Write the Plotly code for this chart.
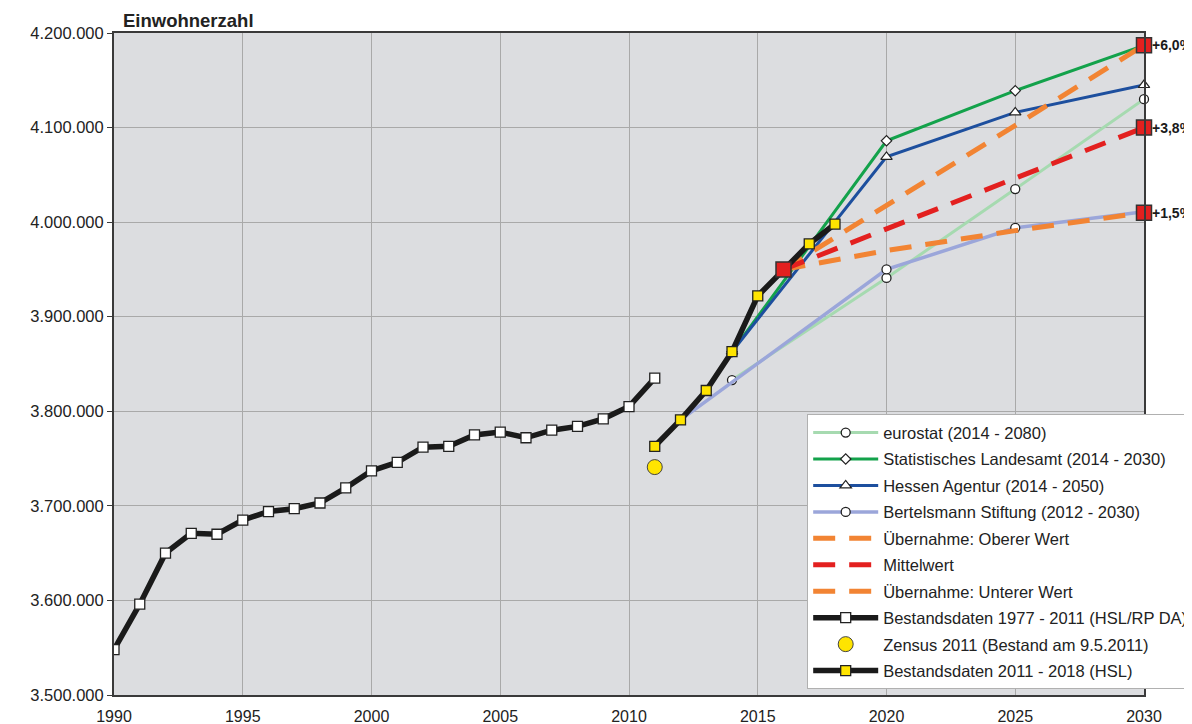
import plotly.graph_objects as go

# ---- data ----
years_old = list(range(1990, 2012))
pop_old = [3548000, 3596000, 3650000, 3671000, 3670000, 3685000, 3694000, 3697000,
           3703000, 3719000, 3737000, 3746000, 3762000, 3763000, 3775000, 3778000,
           3772000, 3780000, 3784000, 3792000, 3805000, 3835000]

years_new = list(range(2011, 2019))
pop_new = [3763000, 3791000, 3822000, 3863000, 3922000, 3950000, 3977000, 3998000]

zensus_year = [2011]
zensus_pop = [3741000]

eurostat_years = [2014, 2020, 2025, 2030]
eurostat_pop = [3833000, 3941000, 4035000, 4130000]

landesamt_years = [2014, 2020, 2025, 2030]
landesamt_pop = [3863000, 4086000, 4139000, 4187000]

hessen_years = [2014, 2020, 2025, 2030]
hessen_pop = [3863000, 4069000, 4116000, 4145000]

bertels_years = [2012, 2020, 2025, 2030]
bertels_pop = [3791000, 3950000, 3994000, 4011000]

proj_years = [2016, 2020, 2025, 2030]
upper_pop = [3950000, 4018000, 4102000, 4187000]
mid_pop = [3950000, 3993000, 4046000, 4100000]
lower_pop = [3950000, 3970000, 3991000, 4010000]

end_years = [2016, 2030, 2030, 2030]
end_pop = [3950000, 4187000, 4100000, 4010000]
end_labels = ["+6,0%", "+3,8%", "+1,5%"]

x_ticks = list(range(1990, 2031, 5))

# ---- colours ----
C_EURO = "#a6dab0"
C_GREEN = "#13a24b"
C_BLUE = "#1d4f9e"
C_LAV = "#9ba6da"
C_ORANGE = "#f28433"
C_RED = "#e3201f"
C_BLACK = "#1a1a1a"
C_YELLOW = "#ffe400"

fig = go.Figure()

def add(tr, rank):
    tr.legendrank = rank
    tr.legendgroup = "g%02d" % rank
    fig.add_trace(tr)

add(go.Scatter(x=eurostat_years, y=eurostat_pop, mode="lines+markers",
               name="eurostat (2014 - 2080)", cliponaxis=False,
               line=dict(color=C_EURO, width=3),
               marker=dict(symbol="circle", size=9, color="white",
                           line=dict(color="#222", width=1.3))), 1)
add(go.Scatter(x=bertels_years, y=bertels_pop, mode="lines+markers",
               name="Bertelsmann Stiftung (2012 - 2030)", cliponaxis=False,
               line=dict(color=C_LAV, width=3.5),
               marker=dict(symbol="circle", size=9, color="white",
                           line=dict(color="#222", width=1.3))), 4)
add(go.Scatter(x=landesamt_years, y=landesamt_pop, mode="lines+markers",
               name="Statistisches Landesamt (2014 - 2030)", cliponaxis=False,
               line=dict(color=C_GREEN, width=3),
               marker=dict(symbol="diamond", size=8, color="white",
                           line=dict(color="#222", width=1.2))), 2)
add(go.Scatter(x=hessen_years, y=hessen_pop, mode="lines+markers",
               name="Hessen Agentur (2014 - 2050)", cliponaxis=False,
               line=dict(color=C_BLUE, width=3),
               marker=dict(symbol="triangle-up", size=10, color="white",
                           line=dict(color="#222", width=1.2))), 3)
add(go.Scatter(x=proj_years, y=upper_pop, mode="lines",
               name="Übernahme: Oberer Wert",
               line=dict(color=C_ORANGE, width=5, dash="22px,14px")), 5)
add(go.Scatter(x=proj_years, y=lower_pop, mode="lines",
               name="Übernahme: Unterer Wert",
               line=dict(color=C_ORANGE, width=5, dash="22px,14px")), 7)
add(go.Scatter(x=proj_years, y=mid_pop, mode="lines",
               name="Mittelwert",
               line=dict(color=C_RED, width=5, dash="22px,14px")), 6)
add(go.Scatter(x=years_old, y=pop_old, mode="lines+markers",
               name="Bestandsdaten 1977 - 2011 (HSL/RP DA)",
               line=dict(color=C_BLACK, width=5.5),
               marker=dict(symbol="square", size=10, color="white",
                           line=dict(color="#222", width=1.3))), 8)
add(go.Scatter(x=years_new, y=pop_new, mode="lines+markers",
               name="Bestandsdaten 2011 - 2018 (HSL)",
               line=dict(color=C_BLACK, width=5.5),
               marker=dict(symbol="square", size=10, color=C_YELLOW,
                           line=dict(color="#222", width=1.3))), 10)
add(go.Scatter(x=zensus_year, y=zensus_pop, mode="markers",
               name="Zensus 2011 (Bestand am 9.5.2011)",
               marker=dict(symbol="circle", size=15, color=C_YELLOW,
                           line=dict(color="#444", width=1))), 9)
fig.add_trace(go.Scatter(x=end_years, y=end_pop, mode="markers", showlegend=False,
                         cliponaxis=False, hoverinfo="skip",
                         marker=dict(symbol="square", size=15, color=C_RED,
                                     line=dict(color="#333", width=1.5))))

for yv, txt in zip(end_pop[1:], end_labels):
    fig.add_annotation(x=2030, y=yv, text="<b>" + txt + "</b>", showarrow=False,
                       xanchor="left", yanchor="middle", xshift=6,
                       font=dict(size=14, color="#1a1a1a"))

fig.add_annotation(xref="paper", yref="paper", x=0, y=1, xshift=7, yshift=0,
                   text="<b>Einwohnerzahl</b>", showarrow=False,
                   xanchor="left", yanchor="bottom",
                   font=dict(size=18.5, color="#222"))

# the page body has an 8px margin, so the figure is sized to the remaining area
fig.update_layout(
    width=1184, height=716,
    margin=dict(l=106, r=48, t=25, b=29, autoexpand=False),
    paper_bgcolor="white",
    plot_bgcolor="#dcdde0",
    separators=",.",
    font=dict(family="Liberation Sans, Arial, sans-serif", size=16, color="#222"),
    showlegend=True,
    legend=dict(x=0.673, y=0.424, xanchor="left", yanchor="top",
                bgcolor="white", bordercolor="#b0b0b0", borderwidth=1,
                font=dict(size=16.5, color="#222"), itemwidth=65,
                tracegroupgap=2, traceorder="grouped"),
)
fig.update_xaxes(range=[1990, 2030], tickvals=x_ticks, showgrid=True,
                 gridcolor="#a9a9a9", gridwidth=1, zeroline=False,
                 showline=True, linecolor="#3a3a3a", linewidth=2, mirror=True,
                 ticks="", ticklabelstandoff=6, tickfont=dict(size=16, color="#222"))
fig.update_yaxes(range=[3500000, 4200000], dtick=100000, tickformat=",d",
                 showgrid=True, gridcolor="#a9a9a9", gridwidth=1, zeroline=False,
                 showline=True, linecolor="#3a3a3a", linewidth=2, mirror=True,
                 ticks="outside", ticklen=5, tickcolor="#3a3a3a",
                 tickfont=dict(size=16.5, color="#222"))

fig.write_html("out.html")
